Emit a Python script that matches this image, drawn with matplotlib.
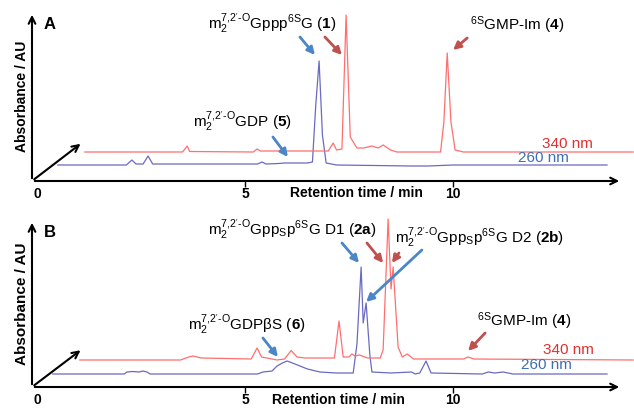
import matplotlib
matplotlib.use('Agg')
import matplotlib.pyplot as plt
import matplotlib.transforms as mtransforms

plt.rcParams['font.family'] = ['Liberation Sans', 'DejaVu Sans']
plt.rcParams['mathtext.fontset'] = 'custom'
plt.rcParams['mathtext.rm'] = 'Liberation Sans'
plt.rcParams['mathtext.it'] = 'Liberation Sans'
plt.rcParams['mathtext.bf'] = 'Liberation Sans:bold'

# panel A, retention time (min) / absorbance (AU)
a_blue_t = [0.50, 2.15, 2.28, 2.38, 2.55, 2.67, 2.78, 5.30, 5.41, 5.50, 5.80, 5.95, 6.50, 6.62,
            6.70, 6.78, 6.86, 6.95, 7.20, 9.00, 9.40, 10.0, 13.70]
a_blue_y = [0.00, 0.00, 0.05, 0.01, 0.01, 0.09, 0.01, 0.01, 0.03, 0.01, 0.015, 0.02, 0.02, 0.03,
            0.60, 1.04, 0.30, 0.02, 0.00, -0.01, -0.01, 0.00, 0.00]
a_red_t = [0.50, 2.85, 2.96, 3.02, 4.55, 4.64, 4.72, 6.35, 6.47, 6.55, 6.68, 6.78, 6.88, 7.04,
           7.20, 7.40, 7.55, 7.67, 7.85, 8.00, 9.05, 9.13, 9.21, 9.30, 9.40, 9.60, 13.68]
a_red_y = [0.00, 0.00, 0.06, 0.005, 0.00, 0.03, 0.01, 0.01, 0.09, 0.02, 0.03, 1.37, 0.15, 0.04,
           0.04, 0.06, 0.04, 0.07, 0.02, 0.00, 0.00, 0.30, 0.99, 0.30, 0.02, 0.00, 0.00]

# panel B
b_blue_t = [0.38, 2.10, 2.16, 2.30, 2.45, 2.55, 2.64, 2.72, 5.30, 5.43, 5.65, 5.77, 5.90, 6.01,
            6.20, 6.50, 6.80, 7.20, 7.60, 7.69, 7.79, 7.84, 7.91, 8.00, 8.05, 8.50, 9.00, 9.09,
            9.20, 9.35, 9.47, 10.70, 10.85, 11.00, 11.20, 11.44, 13.70]
b_blue_y = [0.00, 0.00, 0.02, 0.025, 0.02, 0.03, 0.02, 0.00, 0.00, 0.02, 0.03, 0.08, 0.11, 0.13,
            0.10, 0.05, 0.02, 0.01, 0.01, 0.30, 1.07, 0.51, 0.71, 0.19, 0.02, 0.01, 0.02, 0.00,
            0.01, 0.13, 0.01, 0.00, 0.02, 0.01, 0.02, 0.00, 0.00]
b_red_t = [0.38, 2.80, 3.00, 3.10, 3.30, 4.50, 4.64, 4.75, 5.12, 5.30, 5.46, 5.60, 5.80, 6.50,
           6.61, 6.71, 6.85, 6.92, 7.00, 7.10, 7.30, 7.60, 7.67, 7.79, 7.86, 7.91, 8.03, 8.13,
           8.25, 8.40, 9.60, 9.71, 9.85, 13.68]
b_red_y = [0.00, 0.00, 0.03, 0.04, 0.02, 0.01, 0.12, 0.03, 0.00, 0.01, 0.095, 0.03, 0.02, 0.02,
           0.39, 0.03, 0.03, 0.06, 0.04, 0.05, 0.02, 0.02, 0.10, 1.41, 0.71, 0.93, 0.13, 0.03,
           0.06, 0.01, 0.01, 0.03, 0.01, 0.00]

ticks = [0, 5, 10]
tick_labels = ['0', '5', '10']

red_line = '#ff6f6f'
blue_line = '#6a6ac2'
red_arrow = '#c0504d'
blue_arrow = '#4a86c8'

fig = plt.figure(figsize=(6.34, 4.08), dpi=100)


def panel(rect, ymax, bt, by, rt, ry, blue_dy, red_dy, letter, ylab_size):
    ax = fig.add_axes(rect)
    ax.set_xlim(-0.12, 14.06)
    ax.set_ylim(0, ymax)
    for s in ax.spines.values():
        s.set_visible(False)
    ax.set_yticks([])
    ax.set_xticks(ticks)
    ax.set_xticklabels(tick_labels, fontweight='bold', fontsize=10)
    ax.tick_params(axis='x', length=4, width=1, pad=0.5)
    ax.xaxis.get_major_ticks()[0].tick1line.set_visible(False)

    # pseudo-3d: each trace sits on its own depth
    tb = mtransforms.offset_copy(ax.transData, fig=fig, x=0, y=blue_dy, units='dots')
    tr = mtransforms.offset_copy(ax.transData, fig=fig, x=27, y=red_dy, units='dots')
    ax.plot(bt, by, color=blue_line, lw=0.9, transform=tb, clip_on=False)
    ax.plot(rt, ry, color=red_line, lw=0.9, transform=tr, clip_on=False)

    ak = dict(arrowstyle='->', color='black', lw=1.5, mutation_scale=12)
    ax.annotate('', xy=(0, 1), xytext=(0, 0), xycoords='axes fraction', arrowprops=ak)
    ax.annotate('', xy=(1, 0), xytext=(0, 0), xycoords='axes fraction', arrowprops=ak)
    ax.annotate('', xy=(0.086, 0.23), xytext=(0, 0), xycoords='axes fraction', arrowprops=ak)

    ax.text(0.02, 0.97, letter, transform=ax.transAxes, fontsize=12, fontweight='bold',
            va='top', ha='left')
    ax.set_ylabel('Absorbance / AU', fontsize=ylab_size, fontweight='bold', labelpad=2)
    return ax


def arrow(ax, x0, y0, x1, y1, c):
    ax.annotate('', xy=(x1, y1), xytext=(x0, y0),
                arrowprops=dict(arrowstyle='-|>', color=c, lw=2, mutation_scale=11,
                                shrinkA=0, shrinkB=0))


lab = dict(fontsize=11, ha='left', va='baseline')
pre = r"m_2^{7{,}2'\text{-}O}"

# ---- A
axA = panel([32 / 634, 1 - 181 / 408, 590 / 634, 169 / 408], 1.69,
            a_blue_t, a_blue_y, a_red_t, a_red_y, 16, 29, 'A', 10)
axA.text(4.11, 1.52, r"$\mathregular{" + pre + r"Gppp^{6S}G\ (\mathbf{1})}$", **lab)
axA.text(3.75, 0.54, r"$\mathregular{" + pre + r"GDP\ (\mathbf{5})}$", **lab)
axA.text(10.41, 1.51, r"$\mathregular{^{6S}GMP\text{-}Im\ (\mathbf{4})}$", **lab)
axA.text(12.14, 0.33, '340 nm', color='#e03030', **lab)
axA.text(11.56, 0.19, '260 nm', color='#3c6fb5', **lab)
axA.text(7.67, -0.07, 'Retention time / min', transform=axA.get_xaxis_transform(),
         fontsize=10, fontweight='bold', ha='center', va='center')
arrow(axA, 6.32, 1.44, 6.68, 1.26, blue_arrow)
arrow(axA, 6.92, 1.44, 7.33, 1.26, red_arrow)
arrow(axA, 10.34, 1.43, 10.0, 1.31, red_arrow)
arrow(axA, 5.67, 0.44, 6.03, 0.24, blue_arrow)

# ---- B
axB = panel([32 / 634, 1 - 387 / 408, 590 / 634, 167 / 408], 1.67,
            b_blue_t, b_blue_y, b_red_t, b_red_y, 13, 27, 'B', 11)
axB.text(4.11, 1.52, r"$\mathregular{" + pre + r"Gpp_Sp^{6S}G\ D1\ (\mathbf{2a})}$", **lab)
axB.text(8.61, 1.44, r"$\mathregular{" + pre + r"Gpp_Sp^{6S}G\ D2\ (\mathbf{2b})}$", **lab)
axB.text(3.63, 0.57, r"$\mathregular{" + pre + r"GDP\beta S\ (\mathbf{6})}$", **lab)
axB.text(10.58, 0.61, r"$\mathregular{^{6S}GMP\text{-}Im\ (\mathbf{4})}$", **lab)
axB.text(12.16, 0.33, '340 nm', color='#e03030', **lab)
axB.text(11.63, 0.18, '260 nm', color='#3c6fb5', **lab)
axB.text(7.24, -0.078, 'Retention time / min', transform=axB.get_xaxis_transform(),
         fontsize=10, fontweight='bold', ha='center', va='center')
arrow(axB, 7.33, 1.44, 7.74, 1.24, blue_arrow)
arrow(axB, 7.93, 1.44, 8.32, 1.24, red_arrow)
arrow(axB, 8.70, 1.34, 8.53, 1.24, red_arrow)
arrow(axB, 9.25, 1.37, 7.91, 0.85, blue_arrow)
arrow(axB, 5.43, 0.49, 5.79, 0.30, blue_arrow)
arrow(axB, 10.77, 0.54, 10.36, 0.36, red_arrow)

fig.savefig('out.png', dpi=100)
